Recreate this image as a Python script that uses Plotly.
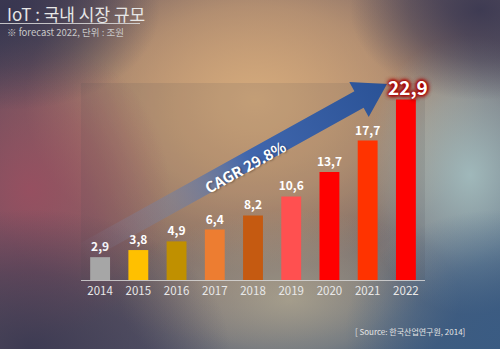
import base64
import math
import plotly.graph_objects as go

# Market size (unit: 조원), forecast through 2022
years = ["2014", "2015", "2016", "2017", "2018", "2019", "2020", "2021", "2022"]
values = [2.9, 3.8, 4.9, 6.4, 8.2, 10.6, 13.7, 17.7, 22.9]
bar_colors = ["#a6a6a6", "#ffc000", "#c09000", "#ed7d31", "#c55a11",
              "#ff5050", "#ff0000", "#ff3300", "#ff0000"]
cagr_text = "CAGR 29.8%"
title_text = "IoT : 국내 시장 규모"
subtitle_text = "※ forecast 2022, 단위 : 조원"
source_text = "[ Source: 한국산업연구원, 2014]"

W, H = 500, 349
L, R, T, B = 81, 75, 83, 69
PW, PH = W - L - R, H - T - B
FONT = "Noto Sans CJK KR"


def fmt(v):
    return f"{v:.1f}".replace(".", ",")


def svg_uri(svg):
    return "data:image/svg+xml;base64," + base64.b64encode(svg.encode()).decode()


def blob(name, color, op):
    return (f'<radialGradient id="{name}" cx="0.5" cy="0.5" r="0.5">'
            f'<stop offset="0" stop-color="{color}" stop-opacity="{op}"/>'
            f'<stop offset="0.55" stop-color="{color}" stop-opacity="{op * 0.55:.2f}"/>'
            f'<stop offset="1" stop-color="{color}" stop-opacity="0"/></radialGradient>')


# Soft blurred backdrop
bg_svg = f"""<svg xmlns="http://www.w3.org/2000/svg" width="{W}" height="{H}" viewBox="0 0 {W} {H}">
<defs>
<linearGradient id="base" x1="0" y1="0" x2="1" y2="1">
<stop offset="0" stop-color="#4a4358"/><stop offset="0.5" stop-color="#6e6068"/><stop offset="1" stop-color="#3b5a7e"/>
</linearGradient>
{blob("warm", "#d4aa7c", 1.0)}
{blob("warm2", "#bb8a66", 0.85)}
{blob("maroon", "#9a4e60", 0.9)}
{blob("teal", "#a2bcbe", 0.95)}
{blob("dark", "#35344f", 0.85)}
{blob("blue", "#3a5c84", 0.85)}
{blob("sand", "#b2aa92", 0.8)}
</defs>
<rect width="{W}" height="{H}" fill="url(#base)"/>
<ellipse cx="255" cy="125" rx="290" ry="220" fill="url(#warm2)"/>
<ellipse cx="255" cy="100" rx="230" ry="170" fill="url(#warm)"/>
<ellipse cx="290" cy="300" rx="170" ry="90" fill="url(#sand)"/>
<ellipse cx="30" cy="190" rx="140" ry="150" fill="url(#maroon)"/>
<ellipse cx="470" cy="175" rx="110" ry="140" fill="url(#teal)"/>
<ellipse cx="30" cy="349" rx="200" ry="140" fill="url(#dark)"/>
<ellipse cx="495" cy="330" rx="150" ry="120" fill="url(#blue)"/>
<ellipse cx="480" cy="10" rx="130" ry="90" fill="url(#dark)"/>
<ellipse cx="10" cy="10" rx="150" ry="100" fill="url(#dark)"/>
</svg>"""

# Growth arrow
tip = (387.0, 84.0)
ang = math.radians(29.0)
d = (math.cos(ang), -math.sin(ang))
n = (math.sin(ang), math.cos(ang))
tail_x = 82.0
tail = (tail_x, tip[1] + (tip[0] - tail_x) * math.tan(ang))
head_len, head_hw, shaft_hw = 32.0, 20.0, 9.5
base = (tip[0] - head_len * d[0], tip[1] - head_len * d[1])


def off(p, k):
    return f"{p[0] + k * n[0]:.1f},{p[1] + k * n[1]:.1f}"


pts = " ".join([off(tail, shaft_hw), off(base, shaft_hw), off(base, head_hw),
                f"{tip[0]:.1f},{tip[1]:.1f}", off(base, -head_hw),
                off(base, -shaft_hw), off(tail, -shaft_hw)])
arrow_svg = f"""<svg xmlns="http://www.w3.org/2000/svg" width="{W}" height="{H}" viewBox="0 0 {W} {H}">
<defs>
<linearGradient id="g" gradientUnits="userSpaceOnUse" x1="{tail[0]:.1f}" y1="{tail[1]:.1f}" x2="{tip[0]:.1f}" y2="{tip[1]:.1f}">
<stop offset="0" stop-color="#8a94b0" stop-opacity="0"/>
<stop offset="0.3" stop-color="#6a7eaa" stop-opacity="0.45"/>
<stop offset="0.55" stop-color="#3a64b0" stop-opacity="0.95"/>
<stop offset="1" stop-color="#2a5296" stop-opacity="1"/>
</linearGradient>
</defs>
<polygon points="{pts}" fill="url(#g)"/>
</svg>"""

fig = go.Figure(go.Bar(
    x=years, y=values,
    marker=dict(color=bar_colors, line=dict(width=0)),
    width=0.52,
    text=[fmt(v) for v in values[:-1]] + [""],
    textposition="outside",
    constraintext="none",
    textfont=dict(family=FONT, size=12, color="white", weight="bold"),
    cliponaxis=False,
    hoverinfo="skip",
))

img_common = dict(xref="paper", yref="paper", x=-L / PW, y=1 + T / PH,
                  sizex=W / PW, sizey=H / PH, xanchor="left", yanchor="top",
                  sizing="stretch")
glow = ", ".join(["0px 0px 3px #b00000"] * 2 + ["0px 0px 5px #a00000"] * 3)
fig.update_layout(
    width=W, height=H,
    margin=dict(l=L, r=R, t=T, b=B, pad=0),
    paper_bgcolor="#4a4658",
    plot_bgcolor="rgba(0,0,0,0)",
    showlegend=False,
    images=[
        dict(source=svg_uri(bg_svg), layer="below", **img_common),
        dict(source=svg_uri(arrow_svg), layer="above", **img_common),
    ],
    shapes=[
        dict(type="rect", xref="paper", yref="paper", x0=0, x1=1, y0=0, y1=1,
             fillcolor="rgba(70,70,80,0.12)", line=dict(width=0), layer="below"),
        dict(type="line", xref="paper", yref="paper", x0=-L / PW, x1=(140 - L) / PW,
             y0=1 + (T - 23.5) / PH, y1=1 + (T - 23.5) / PH,
             line=dict(color="rgba(220,220,220,0.85)", width=1)),
    ],
    xaxis=dict(type="category", range=[-0.5, 8.5], showgrid=False, zeroline=False,
               showline=True, linecolor="rgba(220,220,220,0.8)", linewidth=1,
               ticks="", tickfont=dict(family=FONT, size=11.5, color="#e8e8e8"),
               fixedrange=True),
    yaxis=dict(range=[0, 25], visible=False, fixedrange=True),
    annotations=[
        dict(x=len(years) - 1, y=values[-1], xref="x", yref="y", text=fmt(values[-1]),
             showarrow=False, yanchor="bottom", yshift=-2, xshift=2,
             font=dict(family=FONT, size=19, color="white", weight="bold", shadow=glow)),
        dict(x=(245 - L) / PW, y=1 - (166 - T) / PH, xref="paper", yref="paper",
             text=cagr_text, showarrow=False, textangle=-29,
             font=dict(family=FONT, size=15, color="white", weight="bold",
                       shadow="1px 1px 2px rgba(0,0,0,0.35)")),
        dict(x=-L / PW + 5 / PW, y=1 + (T - 13) / PH, xref="paper", yref="paper",
             text=title_text, showarrow=False, xanchor="left", yanchor="middle",
             font=dict(family=FONT, size=17, color="#e6e6e6")),
        dict(x=-L / PW + 5 / PW, y=1 + (T - 32) / PH, xref="paper", yref="paper",
             text=subtitle_text, showarrow=False, xanchor="left", yanchor="middle",
             font=dict(family=FONT, size=9.5, color="#c8c8c8")),
        dict(x=(467 - L) / PW, y=1 - (331 - T) / PH, xref="paper", yref="paper",
             text=source_text, showarrow=False, xanchor="right", yanchor="middle",
             font=dict(family=FONT, size=8, color="#e4e4e4")),
    ],
)

fig.write_html("out.html")
